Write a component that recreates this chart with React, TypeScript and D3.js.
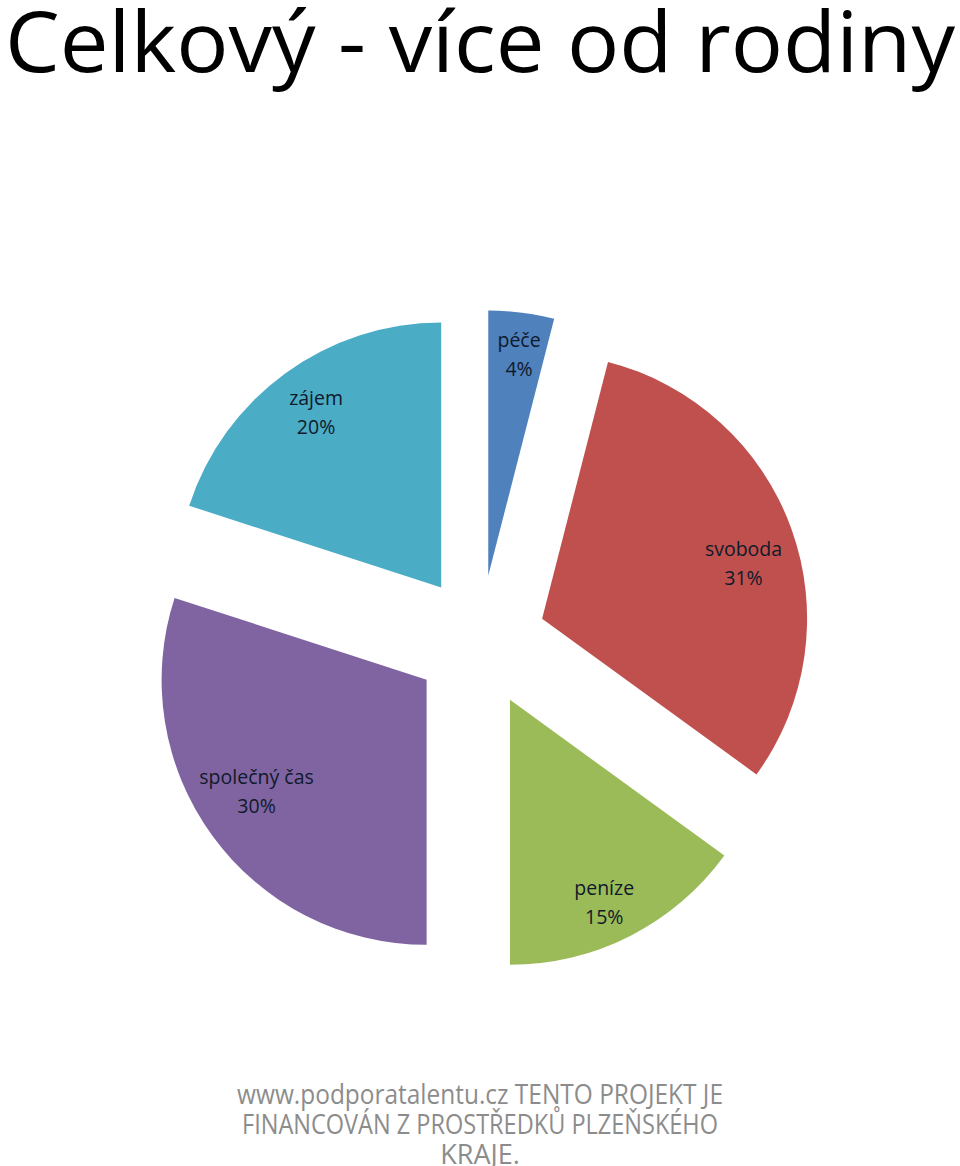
import React from "react";
import * as d3 from "d3";

const categories = ["péče", "svoboda", "peníze", "společný čas", "zájem"];
const values = [4, 31, 15, 30, 20];
const colors = ["#4F81BD", "#C0504D", "#9BBB59", "#8064A2", "#4BACC6"];
const titleText = "Celkový - více od rodiny";
const footerLines = [
  "www.podporatalentu.cz  TENTO PROJEKT JE",
  "FINANCOVÁN Z PROSTŘEDKŮ PLZEŇSKÉHO",
  "KRAJE.",
];

// layout tuning (label distance from slice apex, angular shift in degrees)
const labelDist = [224, 209, 223, 203, 216];
const labelShift = [0.7, 4.3, 2, 2.9, 0.6];
const footerWidths = [486, 476, 0];

const W = 960;
const H = 1166;
const cx = 480;
const cy = 641;
const R = 265;
const explode = 66;
const FONT = "'Open Sans', 'Noto Sans', sans-serif";

export default function App() {
  const pie = d3.pie<number>().sort(null).value((d) => d);
  const arcs = pie(values);
  const arcGen = d3.arc<d3.PieArcDatum<number>>().innerRadius(0).outerRadius(R);
  const total = d3.sum(values);

  return (
    <svg width={W} height={H} style={{ position: "absolute", left: 0, top: 0 }}>
      <rect width={W} height={H} fill="#ffffff" />
      <text
        x={5}
        y={72}
        fontFamily={FONT}
        fontSize={84}
        textLength={950}
        lengthAdjust="spacingAndGlyphs"
        fill="#000"
      >
        {titleText}
      </text>
      {arcs.map((a, i) => {
        const mid = (a.startAngle + a.endAngle) / 2;
        const ox = cx + explode * Math.sin(mid);
        const oy = cy - explode * Math.cos(mid);
        const la = mid + (labelShift[i] * Math.PI) / 180;
        const lx = ox + labelDist[i] * Math.sin(la);
        const ly = oy - labelDist[i] * Math.cos(la);
        const pct = Math.round((values[i] / total) * 100);
        return (
          <g key={categories[i]}>
            <path d={arcGen(a) || ""} transform={`translate(${ox},${oy})`} fill={colors[i]} />
            <text
              x={lx}
              y={ly}
              textAnchor="middle"
              fontFamily={FONT}
              fontSize={19.5}
              fill="#0f1a2b"
            >
              <tspan x={lx} dy={-7}>{categories[i]}</tspan>
              <tspan x={lx} dy={29}>{pct}%</tspan>
            </text>
          </g>
        );
      })}
      {footerLines.map((t, i) => (
        <text
          key={i}
          x={480}
          y={1104 + i * 30}
          textAnchor="middle"
          fontFamily={FONT}
          fontSize={27}
          fill="#8c8c8c"
          {...(footerWidths[i] ? { textLength: footerWidths[i], lengthAdjust: "spacingAndGlyphs" } : {})}
        >
          {t}
        </text>
      ))}
    </svg>
  );
}
